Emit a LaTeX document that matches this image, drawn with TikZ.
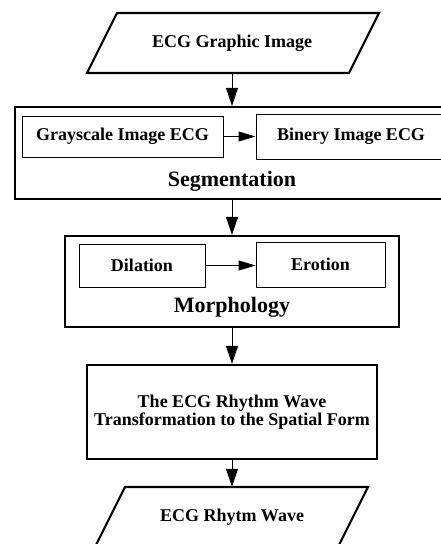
\documentclass[tikz,border=0pt]{standalone}
\usepackage{fontspec}
\setmainfont{Liberation Serif}
\usetikzlibrary{arrows.meta}
\begin{document}
\begin{tikzpicture}[x=1pt,y=-1pt,
  bigbox/.style={draw,line width=2.2pt,inner sep=0pt},
  smallbox/.style={draw,line width=1pt,inner sep=0pt,font=\fontsize{18}{20}\selectfont\bfseries},
  lbl/.style={inner sep=0pt,font=\fontsize{18}{20}\selectfont\bfseries},
  biglbl/.style={inner sep=0pt,font=\fontsize{22}{24}\selectfont\bfseries},
  arr/.style={line width=1pt,-{Triangle[length=18pt,width=12pt]}},
  harr/.style={line width=1pt,-{Triangle[length=17pt,width=10pt]}}]
\useasboundingbox (0,0) rectangle (441,544);
\clip (0,0) rectangle (441,544);
% input parallelogram
\node[lbl,minimum width=230,minimum height=60] (in1) at (232,43) {ECG Graphic Image};
\draw[line width=2.2pt,line join=miter] (87,73) -- (117,13) -- (379,13) -- (349,73) -- cycle;
% segmentation
\node[bigbox,minimum width=435,minimum height=92] (seg) at (232.5,153) {};
\node[smallbox,minimum width=201,minimum height=41] (gray) at (122.5,136.5) {Grayscale Image ECG};
\node[smallbox,minimum width=190,minimum height=45] (bin) at (351,136.5) {Binery Image ECG};
\node[biglbl] (segt) at (232,181) {Segmentation};
% morphology
\node[bigbox,minimum width=334,minimum height=91] (mor) at (232,281.5) {};
\node[smallbox,minimum width=126,minimum height=43] (dil) at (142,265.5) {Dilation};
\node[smallbox,minimum width=129,minimum height=45] (ero) at (320.5,264.5) {Erotion};
\node[biglbl] (mort) at (232,307) {Morphology};
% transformation
\node[bigbox,minimum width=290,minimum height=94,align=center,
      font=\fontsize{18}{18.5}\selectfont\bfseries] (tr) at (232,412)
  {The ECG Rhythm Wave\\Transformation to the Spatial Form};
% output parallelogram
\node[lbl,minimum width=230,minimum height=60] (out) at (232,517) {ECG Rhytm Wave};
\draw[line width=2.2pt,line join=miter] (95,547) -- (125,487) -- (368,487) -- (338,547) -- cycle;
% connectors
\draw[arr] (in1.south) -- (in1.south |- seg.north);
\draw[harr] (gray.east) -- (bin.west |- gray.east);
\draw[arr] (in1.south |- seg.south) -- (mor.north);
\draw[harr] (dil.east) -- (ero.west |- dil.east);
\draw[arr] (mor.south) -- (tr.north);
\draw[arr] (tr.south) -- (out.north);
\end{tikzpicture}
\end{document}
